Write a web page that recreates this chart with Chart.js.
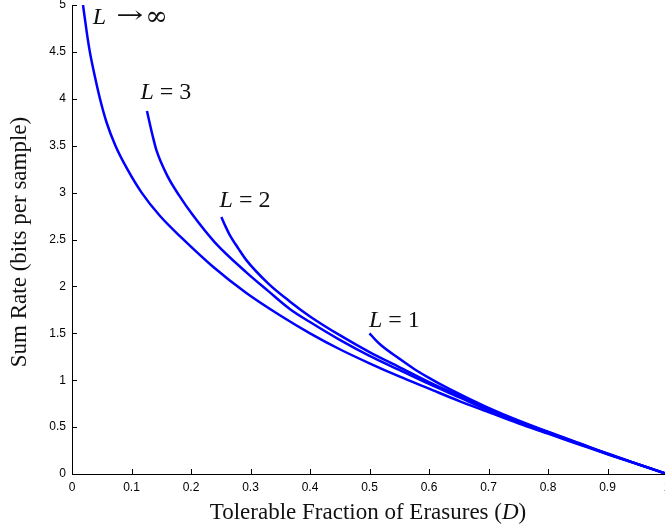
<!DOCTYPE html>
<html>
<head>
<meta charset="utf-8">
<script src="https://cdn.jsdelivr.net/npm/chart.js@4"></script>
<style>
  html, body { margin: 0; padding: 0; background: #fff; overflow: hidden; }
  #wrap { width: 680px; height: 529px; }
</style>
</head>
<body>
<div id="wrap"><canvas id="myChart" width="680" height="529"></canvas></div>
<script>
// values (D, sum rate)
var dInf = [0.0185, 0.025, 0.030, 0.038, 0.047, 0.058, 0.073, 0.093, 0.117, 0.148, 0.184, 0.237, 0.293, 0.35, 0.40, 0.45, 0.50, 0.55, 0.60, 0.65, 0.70, 0.75, 0.80, 0.85, 0.90, 0.95, 1.0];
var rInf = [5.0, 4.7, 4.5, 4.25, 4.0, 3.75, 3.5, 3.25, 3.0, 2.75, 2.52, 2.21, 1.93, 1.69, 1.50, 1.33, 1.18, 1.04, 0.91, 0.78, 0.66, 0.54, 0.43, 0.32, 0.21, 0.105, 0];

var d3 = [0.126, 0.135, 0.142, 0.161, 0.18, 0.203, 0.24, 0.293, 0.33, 0.366, 0.40, 0.45, 0.50, 0.55, 0.60, 0.65, 0.70, 0.75, 0.80, 0.85, 0.90, 0.95, 1.0];
var r3 = [3.87, 3.62, 3.45, 3.17, 2.97, 2.76, 2.47, 2.15, 1.95, 1.76, 1.62, 1.43, 1.26, 1.11, 0.96, 0.82, 0.68, 0.555, 0.44, 0.325, 0.215, 0.107, 0];

var d2 = [0.251, 0.258, 0.265, 0.28, 0.293, 0.33, 0.366, 0.40, 0.45, 0.50, 0.55, 0.60, 0.65, 0.70, 0.75, 0.80, 0.85, 0.90, 0.95, 1.0];
var r2 = [2.74, 2.64, 2.55, 2.40, 2.28, 2.03, 1.84, 1.68, 1.48, 1.30, 1.14, 0.98, 0.835, 0.69, 0.56, 0.445, 0.33, 0.215, 0.108, 0];

var d1 = [0.50, 0.51, 0.52, 0.55, 0.575, 0.60, 0.63, 0.66, 0.70, 0.75, 0.80, 0.85, 0.90, 0.95, 1.0];
var r1 = [1.50, 1.43, 1.37, 1.23, 1.12, 1.025, 0.92, 0.825, 0.705, 0.57, 0.45, 0.335, 0.218, 0.108, 0];

var curveNames = ['L\u2192\u221e', 'L=3', 'L=2', 'L=1'];
var labelRest = [null, ' = 3', ' = 2', ' = 1'];

var xTicks = [0, 0.1, 0.2, 0.3, 0.4, 0.5, 0.6, 0.7, 0.8, 0.9, 1];
var yTicks = [0, 0.5, 1, 1.5, 2, 2.5, 3, 3.5, 4, 4.5, 5];

// where the curve labels sit (data coords, left edge / middle)
var labelAt = [[0.035, 4.87], [0.115, 4.06], [0.248, 2.91], [0.499, 1.63]];

function pts(xs, ys) {
    return xs.map(function (x, i) { return { x: x, y: ys[i] }; });
}

var blue = '#0000ff';
function line(name, xs, ys) {
    return {
        label: name,
        data: pts(xs, ys),
        borderColor: blue,
        borderWidth: 2.5,
        pointRadius: 0,
        fill: false,
        cubicInterpolationMode: 'monotone'
    };
}

// inward ticks, curve labels and axis titles
var extras = {
    id: 'extras',
    afterDraw: function (chart) {
        var c = chart.ctx;
        var xs = chart.scales.x, ys = chart.scales.y;
        var a = chart.chartArea;
        c.save();
        c.strokeStyle = '#000';
        c.lineWidth = 1;
        c.beginPath();
        xTicks.forEach(function (v) {
            var px = Math.round(xs.getPixelForValue(v)) + 0.5;
            c.moveTo(px, a.bottom);
            c.lineTo(px, a.bottom - 5);
        });
        yTicks.forEach(function (v) {
            var py = Math.round(ys.getPixelForValue(v)) + 0.5;
            c.moveTo(a.left, py);
            c.lineTo(a.left + 5, py);
        });
        c.stroke();

        c.fillStyle = '#111';
        c.textBaseline = 'middle';
        c.textAlign = 'left';
        labelAt.forEach(function (p, i) {
            var px = xs.getPixelForValue(p[0]);
            var py = ys.getPixelForValue(p[1]);
            c.font = 'italic 24px "Liberation Serif"';
            c.fillText('L', px, py);
            var w = c.measureText('L').width;
            if (labelRest[i]) {
                c.font = '24px "Liberation Serif"';
                c.fillText(labelRest[i], px + w, py);
            } else {
                // stretched arrow, then infinity
                c.font = '24px "DejaVu Serif"';
                var wa = c.measureText('\u2192').width;
                var ax = px + w + 10;
                c.save();
                c.translate(ax, py);
                c.scale(27 / wa, 1);
                c.fillText('\u2192', 0, 0);
                c.restore();
                c.font = '27px "DejaVu Serif"';
                c.fillText('\u221e', ax + 29, py + 1);
            }
        });

        // x title with italic D
        var t1 = 'Tolerable Fraction of Erasures (';
        var t2 = 'D';
        var t3 = ')';
        var f = '23px "Liberation Serif"';
        c.font = f;
        var w1 = c.measureText(t1).width, w3 = c.measureText(t3).width;
        c.font = 'italic ' + f;
        var w2 = c.measureText(t2).width;
        var x0 = 368 - (w1 + w2 + w3) / 2;
        var yT = 513;
        c.font = f;
        c.fillText(t1, x0, yT);
        c.font = 'italic ' + f;
        c.fillText(t2, x0 + w1, yT);
        c.font = f;
        c.fillText(t3, x0 + w1 + w2, yT);

        // y title
        c.translate(20, 242);
        c.rotate(-Math.PI / 2);
        c.textAlign = 'center';
        c.font = f;
        c.fillText('Sum Rate (bits per sample)', 0, 0);
        c.restore();
    }
};

var ctx = document.getElementById('myChart');
var chart = new Chart(ctx, {
    type: 'line',
    data: {
        datasets: [
            line(curveNames[0], dInf, rInf),
            line(curveNames[1], d3, r3),
            line(curveNames[2], d2, r2),
            line(curveNames[3], d1, r1)
        ]
    },
    options: {
        responsive: false,
        animation: false,
        layout: { padding: { top: 5, right: 13, left: 0, bottom: 0 } },
        plugins: { legend: { display: false }, tooltip: { enabled: false } },
        scales: {
            x: {
                type: 'linear',
                min: 0,
                max: 1,
                afterBuildTicks: function (s) { s.ticks = xTicks.map(function (v) { return { value: v }; }); },
                afterFit: function (s) { s.height = 55; s.paddingLeft = 0; s.paddingRight = 0; },
                grid: { display: false, drawTicks: false },
                border: { display: true, color: '#000', width: 1 },
                ticks: {
                    padding: 6,
                    maxRotation: 0,
                    color: '#000',
                    font: { family: '"Liberation Sans"', size: 12 },
                    callback: function (v) { return String(v); }
                }
            },
            y: {
                min: 0,
                max: 5,
                afterBuildTicks: function (s) { s.ticks = yTicks.map(function (v) { return { value: v }; }); },
                afterFit: function (s) { s.width = 72; s.paddingTop = 0; s.paddingBottom = 0; },
                grid: { display: false, drawTicks: false },
                border: { display: true, color: '#000', width: 1 },
                ticks: {
                    padding: 6,
                    color: '#000',
                    font: { family: '"Liberation Sans"', size: 12 },
                    callback: function (v) { return String(v); }
                }
            }
        }
    },
    plugins: [extras]
});
</script>
</body>
</html>
